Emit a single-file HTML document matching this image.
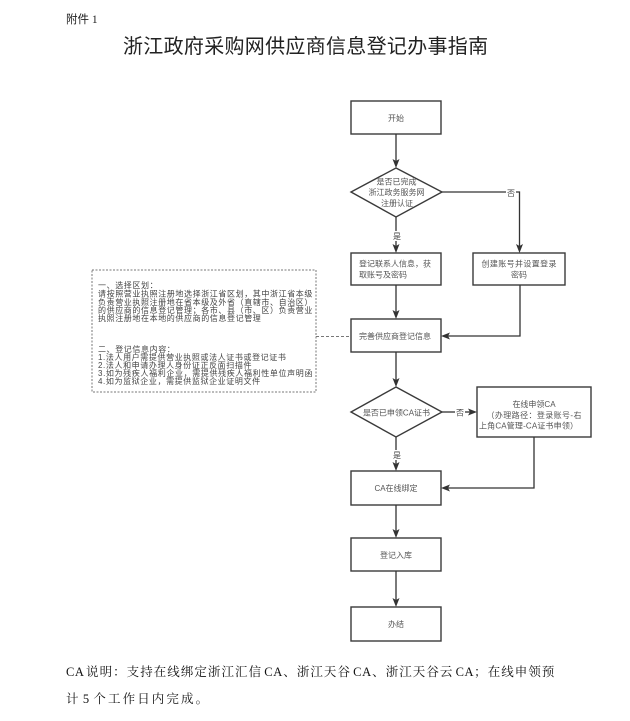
<!DOCTYPE html>
<html>
<head>
<meta charset="utf-8">
<style>
  html, body { margin:0; padding:0; background:#fff; }
  body { width:630px; height:721px; position:relative; overflow:hidden; }
  .abs { position:absolute; white-space:nowrap; }
  #fj { left:66px; top:11px; font-size:11.5px; color:#222; font-family:"Liberation Serif","Noto Sans CJK SC",serif; }
  #fj .h { font-family:"Noto Sans CJK SC",sans-serif; }
  #title { left:123px; top:34px; font-size:20px; line-height:26px; color:#222; letter-spacing:0.3px; font-family:"Liberation Sans","Noto Sans CJK SC",sans-serif; }
  .bt { font-family:"Liberation Serif","Noto Serif CJK SC",serif; font-size:12.5px; color:#111; line-height:16px; }
  #b1 { left:66px; top:664px; width:489px; text-align:justify; text-align-last:justify; letter-spacing:0.6px; word-spacing:-2px; white-space:normal; }
  #b2 { left:66px; top:691px; letter-spacing:2.1px; word-spacing:-3px; }
  svg { position:absolute; left:0; top:0; }
  svg text { font-family:"Liberation Sans","Noto Sans CJK SC",sans-serif; }
</style>
</head>
<body>
<div id="fj" class="abs"><span class="h">附件</span> 1</div>
<div id="title" class="abs">浙江政府采购网供应商信息登记办事指南</div>

<svg width="630" height="721" viewBox="0 0 630 721" xmlns="http://www.w3.org/2000/svg">
  <g fill="#fff" stroke="#3a3a3a" stroke-width="1.4">
    <rect x="351" y="101" width="90" height="33"/>
    <rect x="351" y="253" width="90" height="32"/>
    <rect x="473" y="253" width="92" height="32"/>
    <rect x="351" y="319" width="90" height="33"/>
    <rect x="477" y="387" width="114" height="50"/>
    <rect x="351" y="471" width="90" height="34"/>
    <rect x="351" y="538" width="90" height="33"/>
    <rect x="351" y="607" width="90" height="34"/>
    <polygon points="396,168 442,192 396,217 351,192"/>
    <polygon points="396,387 442,412 396,437 351,412"/>
  </g>

  <rect x="92" y="270" width="224" height="122" fill="none" stroke="#777" stroke-width="1" stroke-dasharray="2,1.5"/>
  <line x1="316" y1="336.5" x2="351" y2="336.5" stroke="#777" stroke-width="1" stroke-dasharray="3,2"/>

  <g stroke="#333" stroke-width="1.3" fill="none">
    <line x1="396" y1="134" x2="396" y2="162"/>
    <polyline points="442,192 506,192"/>
    <polyline points="516,192 519.5,192 519.5,247"/>
    <line x1="396" y1="217" x2="396" y2="231"/>
    <line x1="396" y1="241" x2="396" y2="247"/>
    <line x1="396" y1="285" x2="396" y2="313"/>
    <polyline points="520,285 520,336 447,336"/>
    <line x1="396" y1="352" x2="396" y2="381"/>
    <line x1="442" y1="412" x2="455" y2="412"/>
    <line x1="465" y1="412" x2="471" y2="412"/>
    <line x1="396" y1="437" x2="396" y2="450"/>
    <line x1="396" y1="460" x2="396" y2="465"/>
    <polyline points="534,437 534,488 447,488"/>
    <line x1="396" y1="505" x2="396" y2="532"/>
    <line x1="396" y1="571" x2="396" y2="601"/>
  </g>
  <g fill="#333">
    <polygon points="392.5,159 396,168 399.5,159 396,161"/>
    <polygon points="516,244 519.5,253 523,244 519.5,246"/>
    <polygon points="392.5,244 396,253 399.5,244 396,246"/>
    <polygon points="392.5,310 396,319 399.5,310 396,312"/>
    <polygon points="450,332.5 441,336 450,339.5 448,336"/>
    <polygon points="392.5,378 396,387 399.5,378 396,380"/>
    <polygon points="468,408.5 477,412 468,415.5 470,412"/>
    <polygon points="392.5,462 396,471 399.5,462 396,464"/>
    <polygon points="450,484.5 441,488 450,491.5 448,488"/>
    <polygon points="392.5,529 396,538 399.5,529 396,531"/>
    <polygon points="392.5,598 396,607 399.5,598 396,600"/>
  </g>

  <g font-size="8" fill="#555">
    <text x="396" y="121" text-anchor="middle">开始</text>
    <text x="396.5" y="184.5" text-anchor="middle">是否已完成</text>
    <text x="396.5" y="195" text-anchor="middle">浙江政务服务网</text>
    <text x="397" y="206" text-anchor="middle">注册认证</text>
    <text x="511" y="196" text-anchor="middle" fill="#444">否</text>
    <text x="397" y="239" text-anchor="middle" fill="#444">是</text>
    <text x="359" y="266.5" textLength="72" lengthAdjust="spacing">登记联系人信息，获</text>
    <text x="359" y="277.5">取账号及密码</text>
    <text x="481.5" y="266.5" textLength="75" lengthAdjust="spacing">创建账号并设置登录</text>
    <text x="519" y="277.5" text-anchor="middle">密码</text>
    <text x="359" y="339" textLength="72" lengthAdjust="spacing">完善供应商登记信息</text>
    <text x="396.5" y="415.5" text-anchor="middle">是否已申领CA证书</text>
    <text x="460" y="415.5" text-anchor="middle" fill="#444">否</text>
    <text x="397" y="458" text-anchor="middle" fill="#444">是</text>
    <text x="534" y="407" text-anchor="middle">在线申领CA</text>
    <text x="486.5" y="418" textLength="95" lengthAdjust="spacing">（办理路径：登录账号-右</text>
    <text x="479" y="428.5" textLength="99" lengthAdjust="spacing">上角CA管理-CA证书申领）</text>
    <text x="396" y="491" text-anchor="middle">CA在线绑定</text>
    <text x="396" y="558" text-anchor="middle">登记入库</text>
    <text x="396" y="627" text-anchor="middle">办结</text>
  </g>

  <g font-size="8" fill="#444" letter-spacing="0.6">
    <text x="98" y="288">一、选择区划：</text>
    <text x="98" y="296.5" textLength="215" lengthAdjust="spacing">请按照营业执照注册地选择浙江省区划，其中浙江省本级</text>
    <text x="98" y="305" textLength="215" lengthAdjust="spacing">负责营业执照注册地在省本级及外省（直辖市、自治区）</text>
    <text x="98" y="313" textLength="215" lengthAdjust="spacing">的供应商的信息登记管理；各市、县（市、区）负责营业</text>
    <text x="98" y="321">执照注册地在本地的供应商的信息登记管理</text>
    <text x="98" y="352">二、登记信息内容：</text>
    <text x="98" y="360">1.法人用户需提供营业执照或法人证书或登记证书</text>
    <text x="98" y="368">2.法人和申请办理人身份证正反面扫描件</text>
    <text x="98" y="376" textLength="215" lengthAdjust="spacing">3.如为残疾人福利企业，需提供残疾人福利性单位声明函</text>
    <text x="98" y="384">4.如为监狱企业，需提供监狱企业证明文件</text>
  </g>
</svg>

<div id="b1" class="abs bt">CA 说明：支持在线绑定浙江汇信 CA、浙江天谷 CA、浙江天谷云 CA；在线申领预</div>
<div id="b2" class="abs bt">计 5 个工作日内完成。</div>
</body>
</html>
